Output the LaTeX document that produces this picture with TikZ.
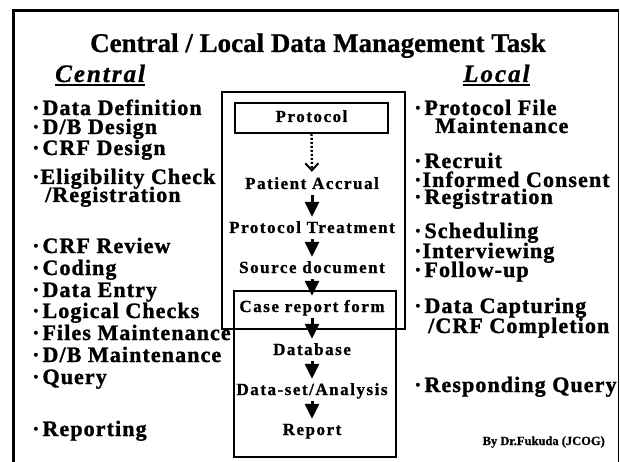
\documentclass[tikz,border=0pt]{standalone}
\usepackage{fontspec}
\setmainfont{Liberation Serif}
\newfontfamily\lspa[LetterSpace=5,BoldFeatures={FakeBold=1.3}]{Liberation Serif}
\newfontfamily\lspb[LetterSpace=9,BoldFeatures={FakeBold=1}]{Liberation Serif}
\newfontfamily\lspt[LetterSpace=8,BoldItalicFeatures={FakeBold=1}]{Liberation Serif}
\newfontfamily\ttl[BoldFeatures={FakeBold=0.8}]{Liberation Serif}
\usetikzlibrary{arrows.meta}
\begin{document}
\begin{tikzpicture}[x=1pt,y=-1pt,
  item/.style={anchor=base west, inner sep=0pt, text height=14pt, text depth=2pt, font=\lspa\bfseries\fontsize{22}{22}\selectfont},
  flow/.style={anchor=base, inner sep=0pt, font=\lspb\bfseries\fontsize{17}{17}\selectfont, text height=11pt, text depth=3pt},
  framebox/.style={draw, line width=1.8pt, inner sep=0pt, anchor=north west},
  flowarrow/.style={line width=3pt, -{Triangle[width=14pt,length=15pt]}, shorten <=3pt, shorten >=5pt},
  heading/.style={anchor=base west, inner sep=0pt, font=\lspt\bfseries\itshape\fontsize{25}{25}\selectfont}
]
\useasboundingbox (0,0) rectangle (620,462);
\fill[white] (0,0) rectangle (620,462);
% outer frame
\draw[line width=2.7pt] (13.5,463) -- (13.5,10.5) -- (618.5,10.5);
\draw[line width=1.2pt] (618.5,10) -- (618.5,463);
% title
\node[anchor=base, inner sep=0pt, font=\ttl\bfseries\fontsize{27}{27}\selectfont] (title) at (318,52) {Central / Local Data Management Task};
\node[heading] (central) at (55,82) {Central};
\node[heading] (local) at (463,82) {Local};
\draw[line width=1.8pt] ([yshift=-3pt]central.base west) -- ([yshift=-3pt]central.base east);
\draw[line width=1.8pt] ([yshift=-3pt]local.base west) -- ([yshift=-3pt]local.base east);
% boxes
\node[framebox, minimum width=183pt, minimum height=237pt] (upper) at (221,91) {};
\node[framebox, minimum width=162pt, minimum height=166pt] (lower) at (233,290) {};
% flow
\node[draw, line width=1.8pt, inner sep=0pt, minimum width=153pt, minimum height=30pt, font=\lspb\bfseries\fontsize{17}{17}\selectfont, text height=11pt, text depth=3pt] (proto) at (311.5,118) {Protocol};
\node[flow] (accr) at (312,189) {Patient Accrual};
\node[flow] (treat) at (312,233) {Protocol Treatment};
\node[flow] (src) at (312,273) {Source document};
\node[flow] (crf) at (312,312) {Case report form};
\node[flow] (db) at (312,355) {Database};
\node[flow] (ds) at (312,395) {Data-set/Analysis};
\node[flow] (rep) at (312,435) {Report};
\draw[line width=2.4pt, dash pattern=on 2pt off 2pt, -{Straight Barb[length=7pt,width=13pt,line width=2pt]}, shorten >=6pt] (proto.south) -- (accr.north);
\draw[flowarrow] (accr.south) -- (treat.north);
\draw[flowarrow] (treat.south) -- (src.north);
\draw[flowarrow] (src.south) -- (crf.north);
\draw[flowarrow] (crf.south) -- (db.north);
\draw[flowarrow] (db.south) -- (ds.north);
\draw[flowarrow] (ds.south) -- (rep.north);
% central list
\node[item] (dd) at (32,115) {·\hspace{3pt}Data Definition};
\node[item] (dbd) at (32,134) {·\hspace{3pt}D/B Design};
\node[item] (crfd) at (32,155) {·\hspace{3pt}CRF Design};
\node[item] (elig) at (32,184) {·\hspace{1pt}Eligibility Check};
\node[item] (elig2) at (45,202) {/Registration};
\node[item] (crfr) at (32,253) {·\hspace{3pt}CRF Review};
\node[item] (coding) at (32,275) {·\hspace{3pt}Coding};
\node[item] (de) at (32,297) {·\hspace{3pt}Data Entry};
\node[item] (lc) at (32,318) {·\hspace{3pt}Logical Checks};
\node[item] (fm) at (32,340) {·\hspace{3pt}Files Maintenance};
\node[item] (dbm) at (32,362) {·\hspace{3pt}D/B Maintenance};
\node[item] (query) at (32,384) {·\hspace{3pt}Query};
\node[item] (reporting) at (32,436) {·\hspace{3pt}Reporting};
% local list
\node[item] (pf) at (414,115) {·\hspace{3pt}Protocol File};
\node[item] (pf2) at (435,133) {Maintenance};
\node[item] (recruit) at (414,168) {·\hspace{3pt}Recruit};
\node[item] (informed) at (414,187) {·\hspace{1pt}Informed Consent};
\node[item] (reg) at (414,204) {·\hspace{3pt}Registration};
\node[item] (sched) at (414,238) {·\hspace{3pt}Scheduling};
\node[item] (interv) at (414,258) {·\hspace{1pt}Interviewing};
\node[item] (follow) at (414,277) {·\hspace{3pt}Follow-up};
\node[item] (dcap) at (414,313) {·\hspace{3pt}Data Capturing};
\node[item] (crfc) at (428,333) {/CRF Completion};
\node[item] (resp) at (414,392) {·\hspace{3pt}Responding Query};
\node[anchor=base east, inner sep=0pt, font=\ttl\bfseries\fontsize{12.5}{12.5}\selectfont] (by) at (605,445) {By Dr.Fukuda (JCOG)};
\end{tikzpicture}
\end{document}
